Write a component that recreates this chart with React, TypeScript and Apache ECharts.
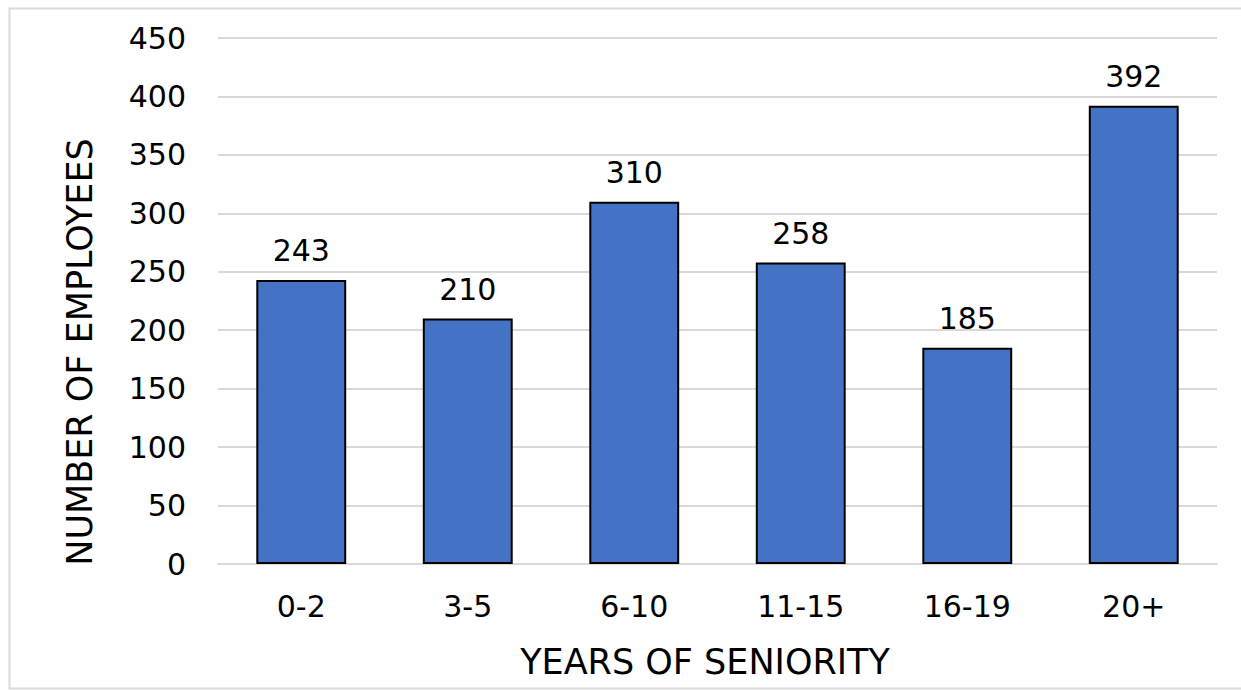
import React, { useEffect, useRef } from "react";
import * as echarts from "echarts";

const categories = ["0-2", "3-5", "6-10", "11-15", "16-19", "20+"];
const employees = [243, 210, 310, 258, 185, 392];
const yTicks = { min: 0, max: 450, interval: 50 };
const xTitle = "YEARS OF SENIORITY";
const yTitle = "NUMBER OF EMPLOYEES";

const FONT = "DejaVu Sans";

export default function App() {
  const ref = useRef<HTMLDivElement>(null);
  useEffect(() => {
    document.body.style.margin = "0";
    const chart = echarts.init(ref.current!, null, { renderer: "svg" });
    chart.setOption({
      animation: false,
      backgroundColor: "#ffffff",
      graphic: [
        {
          type: "rect",
          shape: { x: 9.5, y: 8.5, width: 1240, height: 680 },
          style: { fill: "none", stroke: "#d9d9d9", lineWidth: 2 },
          silent: true,
        },
        {
          type: "text",
          x: 705,
          y: 662,
          style: {
            text: xTitle,
            fontFamily: FONT,
            fontSize: 35,
            fill: "#000",
            align: "center",
            verticalAlign: "middle",
          },
          silent: true,
        },
        {
          type: "text",
          x: 80,
          y: 352,
          rotation: Math.PI / 2,
          style: {
            text: yTitle,
            fontFamily: FONT,
            fontSize: 35,
            fill: "#000",
            align: "center",
            verticalAlign: "middle",
          },
          silent: true,
        },
      ],
      grid: { left: 218, right: 24, top: 38, bottom: 126, containLabel: false },
      xAxis: {
        type: "category",
        data: categories,
        axisLine: { show: true, lineStyle: { color: "#d9d9d9", width: 2 } },
        axisTick: { show: false },
        axisLabel: { fontFamily: FONT, fontSize: 30, color: "#000", margin: 27 },
      },
      yAxis: {
        type: "value",
        min: yTicks.min,
        max: yTicks.max,
        interval: yTicks.interval,
        axisLine: { show: false },
        axisTick: { show: false },
        axisLabel: { fontFamily: FONT, fontSize: 30, color: "#000", margin: 32 },
        splitLine: { lineStyle: { color: "#d9d9d9", width: 2 } },
      },
      series: [
        {
          type: "bar",
          data: employees,
          barWidth: "54%",
          itemStyle: { color: "#4472C4", borderColor: "#000", borderWidth: 2 },
          label: {
            show: true,
            position: "top",
            distance: 14,
            fontFamily: FONT,
            fontSize: 30,
            color: "#000",
          },
        },
      ],
    });
    return () => chart.dispose();
  }, []);
  return <div ref={ref} style={{ width: 1241, height: 690 }} />;
}
